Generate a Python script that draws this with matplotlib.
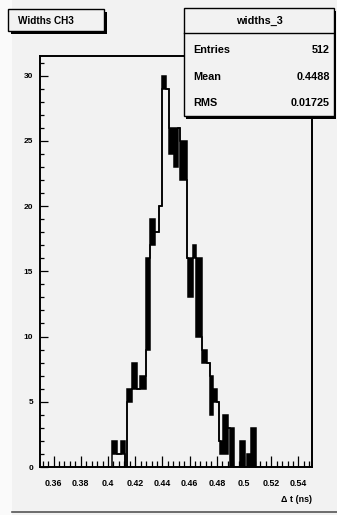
import matplotlib
matplotlib.use("Agg")
import matplotlib.pyplot as plt
from matplotlib.patches import Rectangle
from matplotlib.lines import Line2D
import numpy as np

# ---- data ----
edges = [0.4029, 0.4066, 0.4096, 0.4125, 0.4140, 0.4176, 0.4213, 0.4235, 0.4279,
         0.4309, 0.4346, 0.4375, 0.4397, 0.4426, 0.4449, 0.4485, 0.4515, 0.4529,
         0.4581, 0.4588, 0.4625, 0.4647, 0.4691, 0.4728, 0.4750, 0.4772, 0.4801,
         0.4816, 0.4824, 0.4846, 0.4882, 0.4897, 0.4926, 0.4971, 0.5007, 0.5022,
         0.5051, 0.5088]
counts_low = [1, 1, 1, 0, 5, 6, 6, 6, 9, 17, 18, 20, 29, 29, 24, 23, 26, 22,
              16, 13, 16, 10, 8, 8, 4, 5, 5, 2, 1, 1, 3, 0, 0, 0, 0, 0, 0]
counts_high = [2, 1, 2, 0, 6, 8, 6, 7, 16, 19, 18, 20, 30, 29, 26, 26, 26, 25,
               16, 16, 17, 16, 9, 8, 7, 6, 5, 2, 2, 4, 3, 3, 0, 2, 0, 1, 3]
x_major = [0.36, 0.38, 0.40, 0.42, 0.44, 0.46, 0.48, 0.50, 0.52, 0.54]
x_labels = ["0.36", "0.38", "0.4", "0.42", "0.44", "0.46", "0.48", "0.5", "0.52", "0.54"]
y_major = [0, 5, 10, 15, 20, 25, 30]
y_labels = ["0", "5", "10", "15", "20", "25", "30"]
title = "Widths CH3"
stats_name = "widths_3"
stats_rows = [("Entries", "512"), ("Mean", "0.4488"), ("RMS", "0.01725")]
x_title = "\u0394 t (ns)"

# ---- figure ----
W, H = 337, 515
BG = "#f2f2f2"
FONT = "Liberation Sans"
plt.rcParams["font.family"] = [FONT, "DejaVu Sans"]

fig = plt.figure(figsize=(W / 100, H / 100), dpi=100, facecolor=BG)


def fx(x):
    return x / W


def fy(y):
    return 1 - y / H


ax_l, ax_r, ax_t, ax_b = 40, 312, 56, 467
ax = fig.add_axes([fx(ax_l), fy(ax_b), fx(ax_r) - fx(ax_l), fy(ax_t) - fy(ax_b)])
ax.set_facecolor(BG)
ax.set_xlim(0.35, 0.55)
ax.set_ylim(0, 31.5)

e = np.array(edges)
lo = np.array(counts_low, dtype=float)
hi = np.array(counts_high, dtype=float)
ax.stairs(hi, e, baseline=lo, fill=True, color="black", lw=0)
ax.stairs(hi, e, baseline=0, color="black", lw=1.1)
ax.stairs(lo, e, baseline=None, color="black", lw=1.1)

for s in ax.spines.values():
    s.set_linewidth(1.4)
    s.set_color("black")

ax.set_xticks(x_major)
ax.set_xticklabels(x_labels, fontweight="bold")
ax.set_xticks(np.arange(0.352, 0.5501, 0.004), minor=True)
ax.set_yticks(y_major)
ax.set_yticklabels(y_labels, fontweight="bold")
ax.set_yticks(np.arange(0, 31.5, 1), minor=True)

ax.tick_params(axis="x", which="major", direction="in", length=8, width=0.9,
               pad=8.5, labelsize=6.4, top=False)
ax.tick_params(axis="x", which="minor", direction="in", length=4, width=0.9, top=False)
ax.tick_params(axis="y", which="major", direction="in", length=5.8, width=0.9,
               pad=5, labelsize=6.0, right=False)
ax.tick_params(axis="y", which="minor", direction="in", length=2.9, width=0.9, right=False)

fig.text(fx(312), fy(500), x_title, ha="right", va="center", fontsize=6.4,
         fontweight="bold")

# pad bevel
fig.add_artist(Rectangle((0, 0), fx(12), 1, transform=fig.transFigure,
                         facecolor="#fafafa", edgecolor="none", zorder=0))
fig.add_artist(Line2D([fx(12), 1], [fy(512), fy(512)], transform=fig.transFigure,
                      color="#555555", lw=1.2))


def box(x0, y0, x1, y1, shadow=2.5):
    fig.add_artist(Rectangle((fx(x0 + shadow), fy(y1 + shadow)),
                             fx(x1 - x0), fy(y0) - fy(y1), transform=fig.transFigure,
                             facecolor="black", edgecolor="none", zorder=5))
    fig.add_artist(Rectangle((fx(x0), fy(y1)), fx(x1 - x0), fy(y0) - fy(y1),
                             transform=fig.transFigure, facecolor=BG,
                             edgecolor="black", lw=1.0, zorder=6))


# title box
box(8, 9, 104, 31)
fig.text(fx(18), fy(21), title, ha="left", va="center", fontsize=7.2,
         fontweight="bold", zorder=7)

# stats box
box(184, 8, 334, 116)
fig.add_artist(Line2D([fx(184), fx(334)], [fy(33), fy(33)], transform=fig.transFigure,
                      color="black", lw=1.0, zorder=7))
fig.text(fx(259), fy(21), stats_name, ha="center", va="center", fontsize=7.8,
         fontweight="bold", zorder=7)
row_y = [50, 77, 103]
for (k, v), yy in zip(stats_rows, row_y):
    fig.text(fx(193), fy(yy), k, ha="left", va="center", fontsize=7.8,
             fontweight="bold", zorder=7)
    fig.text(fx(330), fy(yy), v, ha="right", va="center", fontsize=7.8,
             fontweight="bold", zorder=7)

fig.savefig("out.png", dpi=100, facecolor=BG)
